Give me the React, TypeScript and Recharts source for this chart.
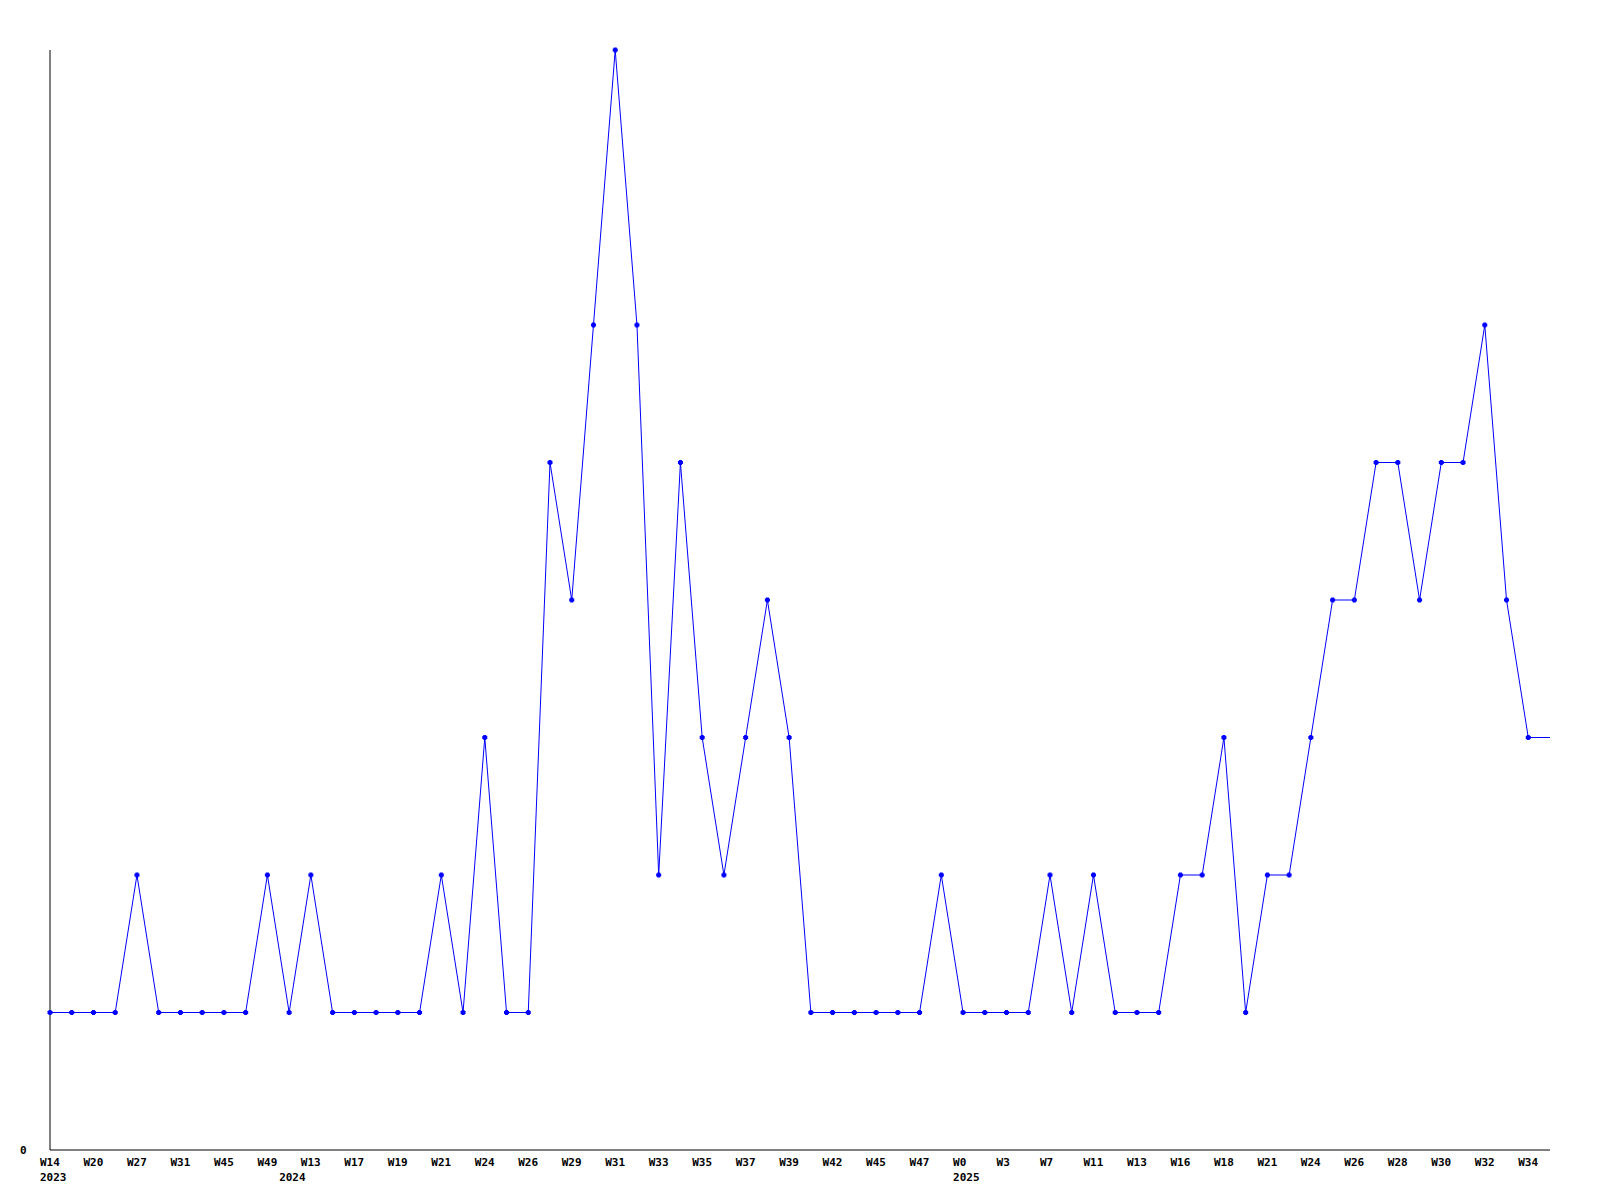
import { LineChart, Line, XAxis, YAxis } from 'recharts';

// labelled weeks (every other point carries a label)
const weekLabels = [
  'W14', 'W20', 'W27', 'W31', 'W45', 'W49', 'W13', 'W17', 'W19', 'W21', 'W24', 'W26',
  'W29', 'W31', 'W33', 'W35', 'W37', 'W39', 'W42', 'W45', 'W47', 'W0', 'W3', 'W7',
  'W11', 'W13', 'W16', 'W18', 'W21', 'W24', 'W26', 'W28', 'W30', 'W32', 'W34',
];

// year shown under the first point of each year
const yearMarks: Record<number, string> = { 0: '2023', 11: '2024', 42: '2025' };

const counts = [
  1, 1, 1, 1, 2, 1, 1, 1, 1, 1,
  2, 1, 2, 1, 1, 1, 1, 1, 2, 1,
  3, 1, 1, 5, 4, 6, 8, 6, 2, 5,
  3, 2, 3, 4, 3, 1, 1, 1, 1, 1,
  1, 2, 1, 1, 1, 1, 2, 1, 2, 1,
  1, 1, 2, 2, 3, 1, 2, 2, 3, 4,
  4, 5, 5, 4, 5, 5, 6, 4, 3, 3,
];

const data = counts.map((v, i) => ({
  idx: i,
  week: i % 2 === 0 ? weekLabels[i / 2] : '',
  value: v,
}));

const FONT = '"DejaVu Sans Mono", monospace';

const WeekTick = (props: any) => {
  const { x, payload } = props;
  const i = payload.value as number;
  const label = i % 2 === 0 ? weekLabels[i / 2] : '';
  const year = yearMarks[i];
  return (
    <g>
      {label && (
        <text x={x - 10} y={1166} fontFamily={FONT} fontWeight="bold" fontSize={11} fill="#000">
          {label}
        </text>
      )}
      {year && (
        <text x={x - 10} y={1181} fontFamily={FONT} fontWeight="bold" fontSize={11} fill="#000">
          {year}
        </text>
      )}
    </g>
  );
};

const ZeroTick = (props: any) => {
  const { y, payload } = props;
  return (
    <text x={20} y={y + 4} fontFamily={FONT} fontWeight="bold" fontSize={11} fill="#000">
      {payload.value}
    </text>
  );
};

const Marker = (props: any) => {
  const { cx, cy, index } = props;
  if (index === counts.length - 1) return <g key={index} />;
  return (
    <g key={index} fill="#0000ff">
      <rect x={cx - 2.5} y={cy - 1.5} width={5} height={3} />
      <rect x={cx - 1.5} y={cy - 2.5} width={3} height={5} />
    </g>
  );
};

export default function App() {
  return (
    <div style={{ position: 'absolute', left: 0, top: 0, width: 1600, height: 1200, background: '#fff' }}>
      <LineChart width={1600} height={1200} data={data} margin={{ top: 50, right: 50, left: 0, bottom: 0 }}>
        <XAxis
          dataKey="idx"
          type="category"
          height={50}
          interval={0}
          tickLine={false}
          axisLine={{ stroke: '#000', strokeWidth: 1 }}
          tick={<WeekTick />}
        />
        <YAxis
          width={50}
          domain={[0, 8]}
          ticks={[0]}
          tickLine={false}
          axisLine={{ stroke: '#000', strokeWidth: 1 }}
          tick={<ZeroTick />}
        />
        <Line
          type="linear"
          dataKey="value"
          stroke="#0000ff"
          strokeWidth={1}
          dot={<Marker />}
          activeDot={false}
          isAnimationActive={false}
        />
      </LineChart>
    </div>
  );
}
